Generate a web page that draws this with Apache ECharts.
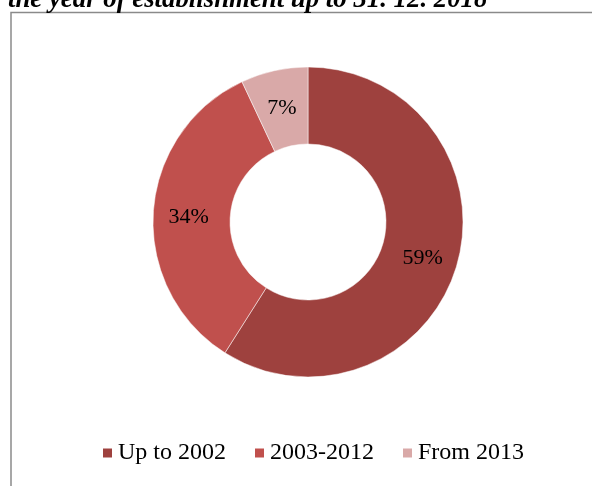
<!DOCTYPE html>
<html>
<head>
<meta charset="utf-8">
<script src="https://cdn.jsdelivr.net/npm/echarts@6/dist/echarts.min.js"></script>
<style>
  html, body { margin: 0; padding: 0; background: #fff; }
  #chart { width: 592px; height: 486px; }
</style>
</head>
<body>
<div id="chart"></div>
<script>
// data
var categories = ["Up to 2002", "2003-2012", "From 2013"];
var shares = [59, 34, 7];
var colors = ["#9E413E", "#C0504D", "#D9A9A8"];

var myChart = echarts.init(document.getElementById("chart"));

var pieData = categories.map(function (name, i) {
  return { name: name, value: shares[i], itemStyle: { color: colors[i] } };
});

var option = {
  backgroundColor: "#fff",
  animation: false,
  // frame and clipped title
  graphic: [
    {
      type: "rect",
      shape: { x: 11, y: 12.5, width: 620, height: 520 },
      style: { fill: "none", stroke: "#8a8a8a", lineWidth: 1.5 },
      z: 0
    },
    {
      type: "text",
      left: 8,
      top: -13,
      style: {
        text: "the year of establishment up to 31. 12. 2018",
        font: "italic bold 26.8px 'Liberation Serif'",
        fill: "#000"
      }
    }
  ],
  legend: {
    data: categories,
    left: 96,
    top: 436,
    itemWidth: 11,
    itemHeight: 11,
    itemGap: 27,
    icon: "rect",
    textStyle: { fontFamily: "Liberation Serif", fontSize: 24, color: "#000" }
  },
  series: [
    {
      type: "pie",
      center: [308, 222],
      radius: [78, 155],
      startAngle: 90,
      clockwise: true,
      data: pieData,
      label: {
        show: true,
        position: "inside",
        formatter: "{c}%",
        offset: [0, 3],
        fontFamily: "Liberation Serif",
        fontSize: 22,
        color: "#000"
      },
      labelLine: { show: false },
      itemStyle: { borderColor: "#fff", borderWidth: 0.5 },
      emphasis: { disabled: true }
    }
  ]
};
myChart.setOption(option);
</script>
</body>
</html>
